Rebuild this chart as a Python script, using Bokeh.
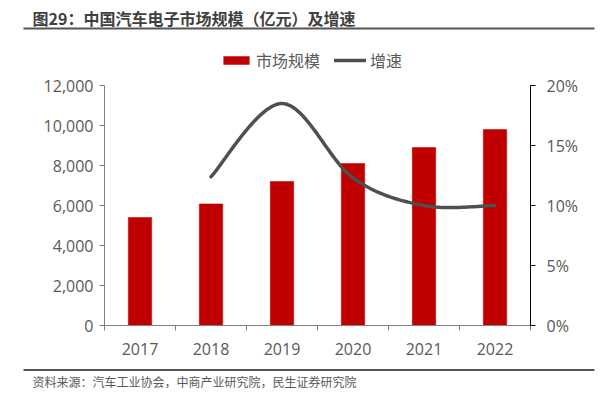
import numpy as np
from bokeh.plotting import figure
from bokeh.models import (Range1d, LinearAxis, FixedTicker, NumeralTickFormatter,
                          PrintfTickFormatter, Legend, LegendItem)
from bokeh.core.properties import value
from bokeh.embed import file_html
from bokeh.resources import INLINE

# ---------------- data ----------------
title_text = "图29：中国汽车电子市场规模（亿元）及增速"
source_text = "资料来源：汽车工业协会，中商产业研究院，民生证券研究院"
years = ["2017", "2018", "2019", "2020", "2021", "2022"]
market_size = [5400, 6080, 7200, 8100, 8900, 9800]          # 亿元
growth = [None, 12.4, 18.5, 12.3, 10.0, 10.0]                 # %
left_ticks = [0, 2000, 4000, 6000, 8000, 10000, 12000]
right_ticks = [0, 5, 10, 15, 20]
size_max = 12000
pct_max = 20

CJK = "Noto Sans CJK SC"
NUM = "Open Sans"
TXT = "#595959"
RED = "#C00000"
LINE = "#4f4f4f"

# ---------------- geometry (pixels inside the figure) ----------------
W, H = 601, 395
AX_LEFT = 104     # x pixel of the left value axis
CAT = 71          # width of one category in pixels
AX_BOTTOM = 325   # y pixel (from top) of the zero line
AX_TOP = 85       # y pixel (from top) of the top of the value axes
n = len(years)
px_per_val = (AX_BOTTOM - AX_TOP) / size_max
px_per_pct = (AX_BOTTOM - AX_TOP) / pct_max

x_range = Range1d(-AX_LEFT / CAT, (W - AX_LEFT) / CAT)
y_range = Range1d(-(H - AX_BOTTOM) / px_per_val, AX_BOTTOM / px_per_val)


def smooth(xs, ys, k=40):
    """Excel-like smoothed line (Catmull-Rom as cubic Bezier)."""
    P = np.column_stack([xs, ys]).astype(float)
    ext = np.vstack([P[0], P, P[-1]])
    out = []
    t = np.linspace(0, 1, k)[:, None]
    for i in range(len(P) - 1):
        p0, p1, p2, p3 = ext[i], ext[i + 1], ext[i + 2], ext[i + 3]
        c1 = p1 + (p2 - p0) / 6.0
        c2 = p2 - (p3 - p1) / 6.0
        seg = ((1 - t) ** 3) * p1 + 3 * ((1 - t) ** 2) * t * c1 + 3 * (1 - t) * t ** 2 * c2 + t ** 3 * p2
        out.append(seg if i == 0 else seg[1:])
    out = np.vstack(out)
    return out[:, 0], out[:, 1]


p = figure(width=W, height=H, output_backend="svg", toolbar_location=None,
           x_range=x_range, y_range=y_range, min_border=0,
           x_axis_type=None, y_axis_type=None)
p.outline_line_color = None
p.grid.visible = False
p.extra_y_ranges = {
    "pct": Range1d(-(H - AX_BOTTOM) / px_per_pct, AX_BOTTOM / px_per_pct),
    "page": Range1d(H, 0),
}
p.extra_x_ranges = {"page": Range1d(0, W)}

# ---------------- marks ----------------
xc = [i + 0.5 for i in range(n)]
bars = p.vbar(x=xc, top=market_size, width=0.33, fill_color=RED, line_color=RED, line_width=0.5)

gx = [xc[i] for i in range(n) if growth[i] is not None]
gy = [growth[i] for i in range(n) if growth[i] is not None]
sx, sy = smooth(gx, gy)
ln = p.line(sx, sy, y_range_name="pct", line_color=LINE, line_width=3.5, line_cap="round")

# ---------------- axes ----------------
xaxis = LinearAxis(fixed_location=0, bounds=(0, n),
                   ticker=FixedTicker(ticks=xc, minor_ticks=list(range(n + 1))),
                   major_label_overrides={xc[i]: years[i] for i in range(n)})
xaxis.major_tick_line_color = None
xaxis.minor_tick_line_color = "#7f7f7f"
xaxis.minor_tick_out = 5
xaxis.minor_tick_in = 0
xaxis.axis_line_color = "#7f7f7f"
xaxis.axis_line_width = 1.2
xaxis.major_label_text_font = NUM
xaxis.major_label_text_font_size = "16px"
xaxis.major_label_text_color = TXT
xaxis.major_label_standoff = 11
p.add_layout(xaxis, "below")

yl = LinearAxis(fixed_location=0, bounds=(0, size_max),
                ticker=FixedTicker(ticks=left_ticks), formatter=NumeralTickFormatter(format="0,0"))
yl.axis_line_color = "#7f7f7f"
yl.major_tick_line_color = "#7f7f7f"
yl.major_tick_in = 0
yl.major_tick_out = 5
yl.minor_tick_line_color = None
yl.major_label_text_font = NUM
yl.major_label_text_font_size = "16px"
yl.major_label_text_color = TXT
yl.major_label_standoff = 6
p.add_layout(yl, "left")

yr = LinearAxis(y_range_name="pct", fixed_location=n, bounds=(0, pct_max),
                ticker=FixedTicker(ticks=right_ticks), formatter=PrintfTickFormatter(format="%d%%"))
yr.axis_line_color = "#000000"
yr.major_tick_line_color = "#000000"
yr.major_tick_in = 0
yr.major_tick_out = 5
yr.minor_tick_line_color = None
yr.major_label_text_font = NUM
yr.major_label_text_font_size = "16px"
yr.major_label_text_color = TXT
yr.major_label_standoff = 11
p.add_layout(yr, "right")

# ---------------- legend ----------------
legend = Legend(items=[LegendItem(label="市场规模", renderers=[bars]),
                       LegendItem(label="增速", renderers=[ln])],
                orientation="horizontal", location=(220, H - 72),
                glyph_width=32, glyph_height=10, label_height=18, label_standoff=4,
                spacing=14, padding=0, margin=0,
                label_text_font=CJK, label_text_font_size="16px", label_text_color=TXT,
                border_line_color=None, background_fill_alpha=0)
p.add_layout(legend, "center")

# ---------------- title, source and rules ----------------
p.text(x=[32], y=[17.5], text=[title_text], x_range_name="page", y_range_name="page",
       text_font=value(CJK), text_font_style="bold", text_font_size="16px",
       text_color="#3f3f3f", text_baseline="middle", text_align="left")
p.line(x=[23, 594], y=[28, 28], x_range_name="page", y_range_name="page",
       line_color="#555555", line_width=2)
p.line(x=[23, 594], y=[369.5, 369.5], x_range_name="page", y_range_name="page",
       line_color="#555555", line_width=2)
p.text(x=[32], y=[380.5], text=[source_text], x_range_name="page", y_range_name="page",
       text_font=value(CJK), text_font_size="12px", text_color=TXT,
       text_baseline="middle", text_align="left")

open("out.html", "w").write(file_html(p, INLINE))
